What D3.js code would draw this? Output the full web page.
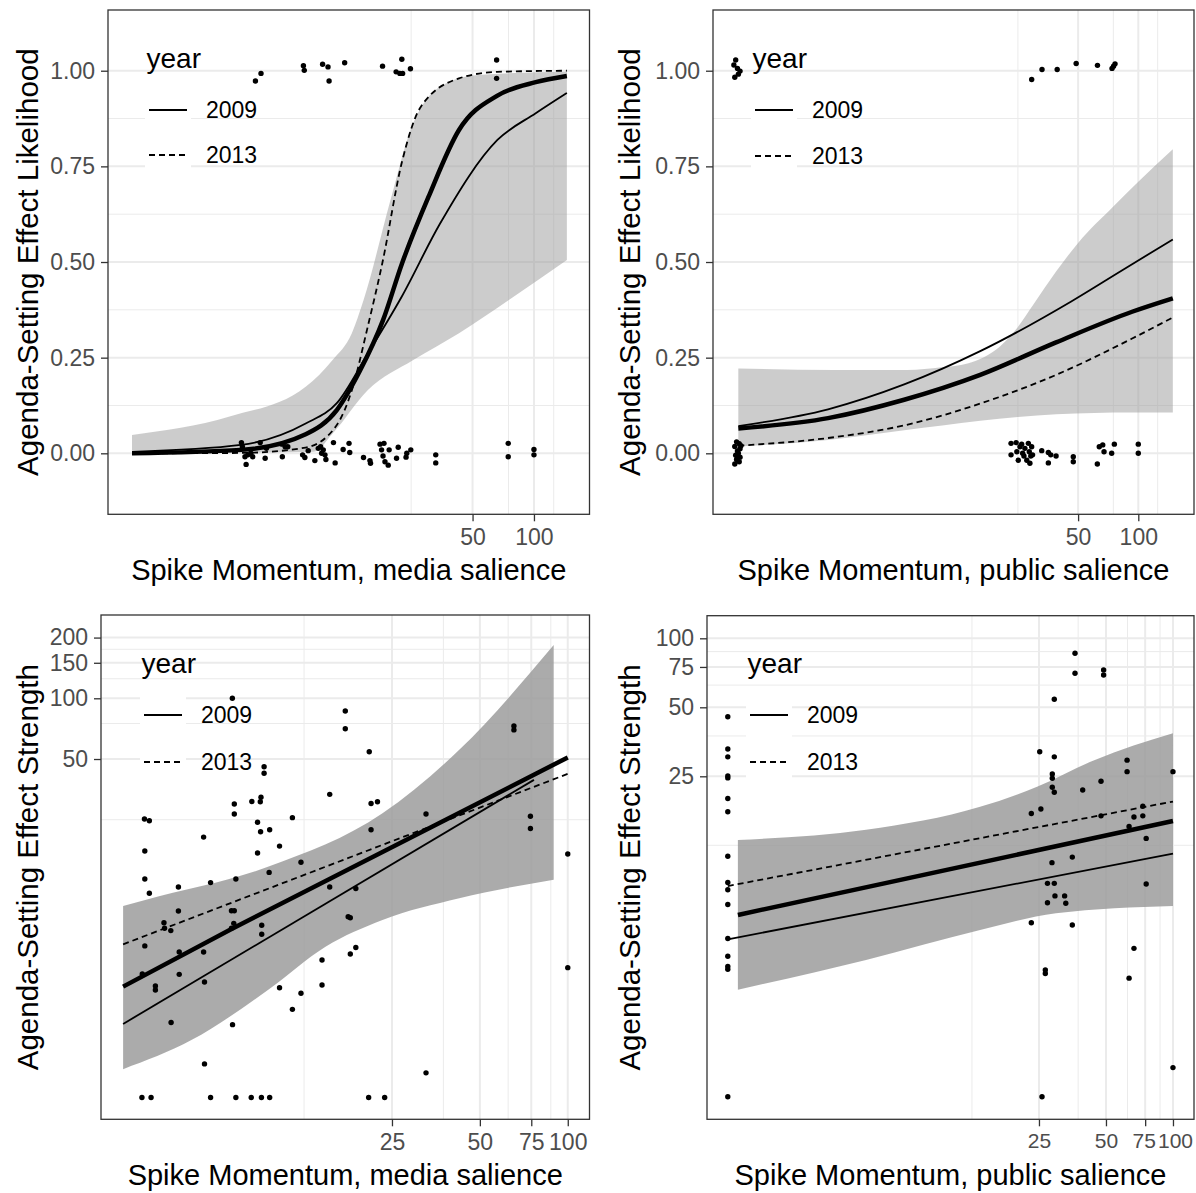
<!DOCTYPE html>
<html>
<head>
<meta charset="utf-8">
<script src="https://cdn.jsdelivr.net/npm/d3@7"></script>
<style>
  body { margin: 0; background: #fff; }
</style>
</head>
<body>
<script>
const W = 1196, H = 1193;
const FONT = '"Liberation Sans", Arial, Helvetica, sans-serif';

// ---------- top-left: likelihood vs media salience ----------
const tlPoints = [
  [4.31, 0.973], [4.59, 0.993], [7.41, 1.013], [7.48, 1.001], [9.2, 1.017], [9.78, 1.010],
  [9.9, 0.973], [11.8, 1.021], [18.1, 1.012], [21.1, 0.997], [22.0, 0.993], [22.7, 0.993],
  [22.5, 1.030], [24.8, 1.005], [65.6, 1.028], [65.6, 0.980],
  [3.68, 0.028], [3.72, 0.017], [3.83, -0.009], [3.88, -0.029], [3.96, -0.004], [4.09, 0.0],
  [4.18, -0.009], [4.55, 0.028], [4.81, -0.013], [4.88, 0.013], [5.82, 0.024], [5.84, -0.009],
  [6.03, 0.017], [6.21, 0.017], [7.34, -0.004], [7.53, -0.011], [7.82, 0.007], [8.43, -0.019],
  [8.76, 0.013], [9.0, 0.017], [9.1, 0.0], [9.27, 0.009], [9.45, -0.004], [9.55, -0.016],
  [10.4, 0.028], [10.6, -0.025], [11.6, 0.010], [12.4, 0.026], [12.5, 0.002], [14.6, -0.011],
  [15.7, -0.019], [15.8, -0.026], [17.6, 0.024], [18.4, 0.026], [17.9, 0.009], [18.2, -0.007],
  [18.6, -0.022], [19.3, -0.031], [19.5, 0.009], [21.2, -0.013], [21.6, 0.016], [23.6, -0.010],
  [23.8, 0.0], [24.9, 0.009], [33.0, -0.004], [33.0, -0.025], [74.8, 0.026], [74.8, -0.009],
  [100, 0.010], [100, -0.004]
];
const tlFitAll = [
  [1.07, 0.0], [3.66, 0.009], [7.6, 0.05], [10.8, 0.113], [14.0, 0.215], [18.2, 0.348],
  [22.5, 0.495], [30.4, 0.67], [42.9, 0.845], [66.2, 0.935], [102, 0.97], [145, 0.986]
];
const tlFit2009 = [
  [1.07, 0.004], [3.66, 0.022], [7.6, 0.078], [10.8, 0.131], [15.3, 0.26], [22.5, 0.41],
  [34.6, 0.6], [66.2, 0.819], [102, 0.889], [145, 0.942]
];
const tlFit2013 = [
  [1.07, 0.0], [3.66, 0.001], [7.6, 0.015], [10.8, 0.074], [12.8, 0.165], [15.3, 0.33],
  [18.1, 0.5], [22.5, 0.76], [27.9, 0.906], [42.9, 0.98], [66, 0.997], [145, 1.0]
];
const tlBandHi = [
  [1.07, 0.048], [3.22, 0.096], [7.6, 0.174], [10.3, 0.244], [12.8, 0.314], [14.6, 0.40],
  [19.8, 0.662], [24.5, 0.836], [34.6, 0.958], [53.4, 0.989], [145, 0.997]
];
const tlBandLo = [
  [1.07, 0.0], [8.3, 0.004], [10.3, 0.052], [15.3, 0.165], [25.6, 0.244], [42.9, 0.314],
  [75, 0.40], [145, 0.505]
];

// ---------- top-right: likelihood vs public salience ----------
const trPoints = [
  [0.97, 1.028], [0.95, 1.015], [0.99, 1.006], [1.02, 0.999], [1.0, 0.991], [0.96, 0.983],
  [29.3, 0.977], [33.0, 1.003], [39.3, 1.003], [48.9, 1.019], [62.5, 1.014], [73.9, 1.006],
  [75.2, 1.012], [76.5, 1.018],
  [0.98, 0.030], [1.01, 0.025], [0.96, 0.018], [1.02, 0.012], [0.99, 0.006], [1.0, 0.0],
  [0.97, -0.005], [1.02, -0.010], [0.98, -0.016], [1.01, -0.022], [0.96, -0.028], [1.03, 0.020],
  [23.1, 0.026], [23.1, -0.004], [24.5, 0.028], [24.7, 0.004], [25.1, -0.018], [25.6, 0.017],
  [26.1, 0.024], [26.4, 0.0], [26.8, -0.007], [27.1, 0.013], [27.7, -0.018], [28.2, 0.026],
  [28.5, 0.004], [28.7, -0.026], [29.0, -0.007], [29.3, 0.017], [29.6, -0.004], [32.9, 0.007],
  [35.5, 0.002], [35.5, -0.025], [36.5, -0.004], [38.8, -0.007], [47.3, -0.009], [47.3, -0.022],
  [62.4, -0.028], [63.8, 0.017], [66.4, 0.022], [67.4, 0.004], [73.6, 0.0], [75.9, 0.024],
  [100, 0.024], [100, 0.0]
];
const trFitAll = [
  [1.0, 0.065], [2.81, 0.092], [6.75, 0.14], [16.2, 0.205], [38.8, 0.29], [93.1, 0.37], [148.8, 0.405]
];
const trFit2009 = [
  [1.0, 0.071], [2.81, 0.115], [6.75, 0.18], [16.2, 0.267], [46.2, 0.397], [81.6, 0.476], [148.8, 0.559]
];
const trFit2013 = [
  [1.0, 0.02], [2.81, 0.04], [6.75, 0.073], [16.2, 0.13], [38.8, 0.205], [93.1, 0.30], [148.8, 0.355]
];
const trBandHi = [
  [1.0, 0.222], [3, 0.218], [7, 0.218], [10.4, 0.225], [14, 0.235], [17, 0.252], [20.4, 0.28],
  [25, 0.33], [30, 0.39], [38.8, 0.475], [50, 0.55], [75, 0.645], [100, 0.71], [148.8, 0.795]
];
const trBandLo = [
  [1.0, 0.018], [2.81, 0.035], [6.75, 0.06], [16.2, 0.085], [25, 0.095], [38.8, 0.102],
  [93, 0.107], [148.8, 0.107]
];

// ---------- bottom-left: strength vs media salience ----------
const blPoints = [
  [7.1, 100], [17.3, 86.5], [17.3, 70.6], [20.9, 54.3], [65.4, 72.9], [65.4, 69.7],
  [3.55, 25.2], [3.69, 24.7], [3.56, 17.5], [3.56, 12.7], [3.69, 10.8], [4.64, 11.6],
  [5.66, 20.5], [5.98, 12.2], [7.21, 29.9], [7.21, 26.7], [7.30, 12.7], [8.28, 30.8],
  [8.85, 30.7], [8.9, 32.3], [8.66, 24.3], [8.87, 21.8], [9.53, 22.3], [8.66, 17.1],
  [9.12, 45.8], [9.12, 42.5], [9.49, 13.7], [10.3, 18.5], [11.4, 25.6], [12.2, 15.4],
  [15.3, 33.4], [15.3, 11.6], [18.8, 11.4], [21.2, 30.1], [22.3, 30.7], [21.2, 22.3],
  [32.7, 26.7], [74.5, 26.0], [74.5, 22.6], [100, 16.9],
  [4.64, 8.82], [4.14, 7.71], [4.16, 7.24], [4.37, 7.05], [3.56, 5.92], [4.67, 5.52],
  [5.66, 5.52], [3.49, 4.30], [4.67, 4.28], [3.87, 3.75], [3.87, 3.58], [5.70, 3.92],
  [7.05, 8.85], [7.21, 8.85], [7.18, 7.66], [7.05, 7.24], [8.95, 7.50], [8.95, 6.76],
  [17.7, 8.26], [18.0, 8.17], [14.4, 5.04], [14.4, 3.79], [18.0, 5.40], [18.8, 5.81],
  [10.3, 3.67], [12.2, 3.45], [11.4, 2.87], [4.38, 2.47], [7.11, 2.41], [5.70, 1.54],
  [32.7, 1.39], [3.48, 1.05], [3.74, 1.05], [5.98, 1.05], [7.30, 1.05], [8.24, 1.05],
  [8.93, 1.05], [9.53, 1.05], [20.8, 1.05], [23.6, 1.05], [100, 4.62]
];
const blFitAll = [[3.0, 3.72], [6.95, 7.1], [100, 50.9]];
const blFit2009 = [[3.0, 2.43], [76.6, 39.4]];
const blFit2013 = [[3.0, 6.03], [100, 42.2]];
const blBandHi = [[3.0, 9.33], [3.57, 10], [9.4, 14.6], [23.2, 26.9], [42.5, 55.5], [89.5, 183.6]];
const blBandLo = [[3.0, 1.45], [5.14, 2.02], [9.4, 3.58], [14.8, 5.87], [23.2, 7.96], [42.5, 10.2], [89.5, 12.6]];

// ---------- bottom-right: strength vs public salience ----------
const brPoints = [
  [1, 45.5], [1, 32.9], [1, 30.4], [1, 25.1], [1, 24.6], [1, 20.0], [1, 17.5], [1, 11.2],
  [1, 8.6], [1, 8.0], [1, 6.9], [1, 4.9], [1, 4.1], [1, 3.7], [1, 3.6], [1, 1.0],
  [36.3, 86.0], [36.3, 70.4], [29.3, 54.2], [48.8, 72.8], [48.8, 69.2], [25.2, 32.0],
  [29.3, 30.4], [28.7, 25.6], [28.7, 24.5], [28.7, 22.4], [29.3, 21.3], [39.3, 21.8],
  [47.5, 23.8], [62.2, 29.4], [62.2, 26.2], [100, 26.2], [23.1, 17.2], [25.5, 18.0],
  [47.5, 16.8], [66.8, 16.6], [73.2, 16.8], [73.2, 18.5], [63.5, 15.1], [75.8, 13.4],
  [35.3, 11.1], [28.6, 10.5], [27.3, 8.53], [29.3, 8.53], [75.8, 8.47], [29.5, 7.52],
  [32.6, 7.52], [27.3, 7.02], [33.0, 6.98], [23.1, 5.74], [35.3, 5.61], [66.8, 4.44],
  [26.7, 3.57], [26.7, 3.45], [63.5, 3.29], [100, 1.34], [25.8, 1.0]
];
const brFitAll = [[1.11, 6.21], [100, 15.96]];
const brFit2009 = [[1.0, 4.86], [100, 11.5]];
const brFit2013 = [[1.0, 8.30], [100, 19.4]];
const brBandHi = [[1.11, 13.2], [4.18, 14.6], [13.6, 18.4], [24.5, 22.5], [44.3, 29.4], [100, 38.5]];
const brBandLo = [[1.11, 2.93], [4.18, 3.95], [13.6, 5.34], [29.8, 6.31], [100, 6.79]];

// ---------- ticks / legend ----------
const years = ['2009', '2013'];
const topYTicks = [0, 0.25, 0.5, 0.75, 1];
const topYMinor = [0.125, 0.375, 0.625, 0.875];
const topXTicks = [50, 100];
const topXMinor = [25, 75, 125];
const botXTicks = [25, 50, 75, 100];
const botXMinor = [12.5, 37.5, 62.5, 87.5];
const blYTicks = [50, 100, 150, 200];
const blYMinor = [25, 75, 125, 175];
const brYTicks = [25, 50, 75, 100];
const brYMinor = [12.5, 37.5, 62.5, 87.5];

const svg = d3.select('body').append('svg')
    .attr('width', W)
    .attr('height', H)
    .style('font-family', FONT);

svg.append('rect').attr('width', W).attr('height', H).attr('fill', '#fff');

const panels = [
  {
    box: { l: 108, r: 589.5, t: 10, b: 514.3 },
    xDom: [0.816, 187.2], yDom: [-0.1594, 1.1587], yLog: false,
    xTicks: topXTicks, xMinor: topXMinor, yTicks: topYTicks, yMinor: topYMinor,
    yFmt: d3.format('.2f'), smooth: true, bandOpacity: 0.5, xTickSize: 23,
    points: tlPoints, all: tlFitAll, f2009: tlFit2009, f2013: tlFit2013, hi: tlBandHi, lo: tlBandLo,
    xTitle: 'Spike Momentum, media salience', yTitle: 'Agenda-Setting Effect Likelihood', yTitleX: 38,
    leg: { x: 145, ty: 68, keys: [110, 155] }
  },
  {
    box: { l: 713, r: 1194, t: 10, b: 514.3 },
    xDom: [0.747, 189.9], yDom: [-0.1594, 1.1587], yLog: false,
    xTicks: topXTicks, xMinor: topXMinor, yTicks: topYTicks, yMinor: topYMinor,
    yFmt: d3.format('.2f'), smooth: true, bandOpacity: 0.5, xTickSize: 23,
    points: trPoints, all: trFitAll, f2009: trFit2009, f2013: trFit2013, hi: trBandHi, lo: trBandLo,
    xTitle: 'Spike Momentum, public salience', yTitle: 'Agenda-Setting Effect Likelihood', yTitleX: 640,
    leg: { x: 751, ty: 68, keys: [110, 156] }
  },
  {
    box: { l: 101, r: 589.5, t: 615, b: 1119.3 },
    xDom: [2.52, 118.7], yDom: [0.818, 258.8], yLog: true,
    xTicks: botXTicks, xMinor: botXMinor, yTicks: blYTicks, yMinor: blYMinor,
    yFmt: d3.format('d'), smooth: false, bandOpacity: 0.82, xTickSize: 23,
    points: blPoints, all: blFitAll, f2009: blFit2009, f2013: blFit2013, hi: blBandHi, lo: blBandLo,
    xTitle: 'Spike Momentum, media salience', yTitle: 'Agenda-Setting Effect Strength', yTitleX: 38,
    leg: { x: 140, ty: 673, keys: [715, 762] }
  },
  {
    box: { l: 707, r: 1194, t: 615.7, b: 1119.3 },
    xDom: [0.8064, 124.3], yDom: [0.797, 125.5], yLog: true,
    xTicks: botXTicks, xMinor: botXMinor, yTicks: brYTicks, yMinor: brYMinor,
    yFmt: d3.format('d'), smooth: false, bandOpacity: 0.82, xTickSize: 21,
    tickNudge: { 75: -1.5, 100: 2 },
    points: brPoints, all: brFitAll, f2009: brFit2009, f2013: brFit2013, hi: brBandHi, lo: brBandLo,
    xTitle: 'Spike Momentum, public salience', yTitle: 'Agenda-Setting Effect Strength', yTitleX: 640,
    leg: { x: 746, ty: 673, keys: [715, 762] }
  }
];

function styleAxis(sel, size) {
  sel.select('.domain').remove();
  sel.selectAll('.tick line').attr('stroke', '#333333').attr('stroke-width', 1.3);
  sel.selectAll('.tick text')
    .attr('fill', '#4d4d4d')
    .style('font-size', size + 'px')
    .style('font-family', FONT);
}

function drawPanel(p, i) {
  const { l, r, t, b } = p.box;
  const x = d3.scaleLog().domain(p.xDom).range([l, r]);
  const y = (p.yLog ? d3.scaleLog() : d3.scaleLinear()).domain(p.yDom).range([b, t]);

  const g = svg.append('g');
  const clipId = 'clip' + i;
  g.append('clipPath').attr('id', clipId)
    .append('rect').attr('x', l).attr('y', t).attr('width', r - l).attr('height', b - t);

  // grid
  const grid = g.append('g').attr('stroke', '#ebebeb');
  grid.selectAll('.xmin').data(p.xMinor).join('line')
    .attr('x1', d => x(d)).attr('x2', d => x(d)).attr('y1', t).attr('y2', b)
    .attr('stroke-width', 1);
  grid.selectAll('.ymin').data(p.yMinor).join('line')
    .attr('y1', d => y(d)).attr('y2', d => y(d)).attr('x1', l).attr('x2', r)
    .attr('stroke-width', 1);
  grid.selectAll('.xmaj').data(p.xTicks).join('line')
    .attr('x1', d => x(d)).attr('x2', d => x(d)).attr('y1', t).attr('y2', b)
    .attr('stroke-width', 2);
  grid.selectAll('.ymaj').data(p.yTicks).join('line')
    .attr('y1', d => y(d)).attr('y2', d => y(d)).attr('x1', l).attr('x2', r)
    .attr('stroke-width', 2);

  const plot = g.append('g').attr('clip-path', `url(#${clipId})`);

  // confidence band
  const bandLine = d3.line().x(d => x(d[0])).y(d => y(d[1])).curve(d3.curveMonotoneX);
  const upper = bandLine(p.hi);
  const lower = bandLine(p.lo.slice().reverse());
  plot.append('path')
    .attr('d', upper + 'L' + lower.slice(1) + 'Z')
    .attr('fill', '#999999')
    .attr('fill-opacity', p.bandOpacity);

  // fitted lines
  const fit = d3.line().x(d => x(d[0])).y(d => y(d[1]))
    .curve(p.smooth ? d3.curveMonotoneX : d3.curveLinear);
  plot.append('path').attr('d', fit(p.f2009))
    .attr('fill', 'none').attr('stroke', '#000').attr('stroke-width', 1.8);
  plot.append('path').attr('d', fit(p.f2013))
    .attr('fill', 'none').attr('stroke', '#000').attr('stroke-width', 1.8)
    .attr('stroke-dasharray', '6,4');
  plot.append('path').attr('d', fit(p.all))
    .attr('fill', 'none').attr('stroke', '#000').attr('stroke-width', 4.5);

  // points
  plot.selectAll('circle').data(p.points).join('circle')
    .attr('cx', d => x(d[0]))
    .attr('cy', d => y(d[1]))
    .attr('r', 2.7)
    .attr('fill', '#000');

  // border
  g.append('rect').attr('x', l).attr('y', t).attr('width', r - l).attr('height', b - t)
    .attr('fill', 'none').attr('stroke', '#333333').attr('stroke-width', 1.3);

  // axes
  const xAxisG = g.append('g').attr('transform', `translate(0,${b})`)
    .call(d3.axisBottom(x).tickValues(p.xTicks).tickFormat(d3.format('d'))
      .tickSizeInner(7).tickSizeOuter(0).tickPadding(7))
    .call(styleAxis, p.xTickSize);
  if (p.tickNudge) {
    xAxisG.selectAll('.tick text').attr('dx', d => p.tickNudge[d] || 0);
  }
  g.append('g').attr('transform', `translate(${l},0)`)
    .call(d3.axisLeft(y).tickValues(p.yTicks).tickFormat(p.yFmt)
      .tickSizeInner(7).tickSizeOuter(0).tickPadding(6))
    .call(styleAxis, 23);

  // axis titles
  g.append('text')
    .attr('x', (l + r) / 2).attr('y', b + 66)
    .attr('text-anchor', 'middle')
    .style('font-size', '29px')
    .attr('fill', '#000')
    .text(p.xTitle);
  g.append('text')
    .attr('transform', `translate(${p.yTitleX},${(t + b) / 2}) rotate(-90)`)
    .attr('text-anchor', 'middle')
    .style('font-size', '29.5px')
    .attr('fill', '#000')
    .text(p.yTitle);

  // legend
  const lg = g.append('g');
  lg.append('text')
    .attr('x', p.leg.x + 1.5).attr('y', p.leg.ty)
    .style('font-size', '28px')
    .text('year');
  years.forEach((yr, k) => {
    const cy = p.leg.keys[k];
    lg.append('rect')
      .attr('x', p.leg.x).attr('y', cy - 22)
      .attr('width', 46).attr('height', 44)
      .attr('fill', '#fff');
    lg.append('line')
      .attr('x1', p.leg.x + 4).attr('x2', p.leg.x + 42)
      .attr('y1', cy).attr('y2', cy)
      .attr('stroke', '#000').attr('stroke-width', 2.2)
      .attr('stroke-dasharray', k ? '6,4' : null);
    lg.append('text')
      .attr('x', p.leg.x + 61).attr('y', cy).attr('dy', '0.35em')
      .style('font-size', '23px')
      .text(yr);
  });
}

panels.forEach(drawPanel);
</script>
</body>
</html>
